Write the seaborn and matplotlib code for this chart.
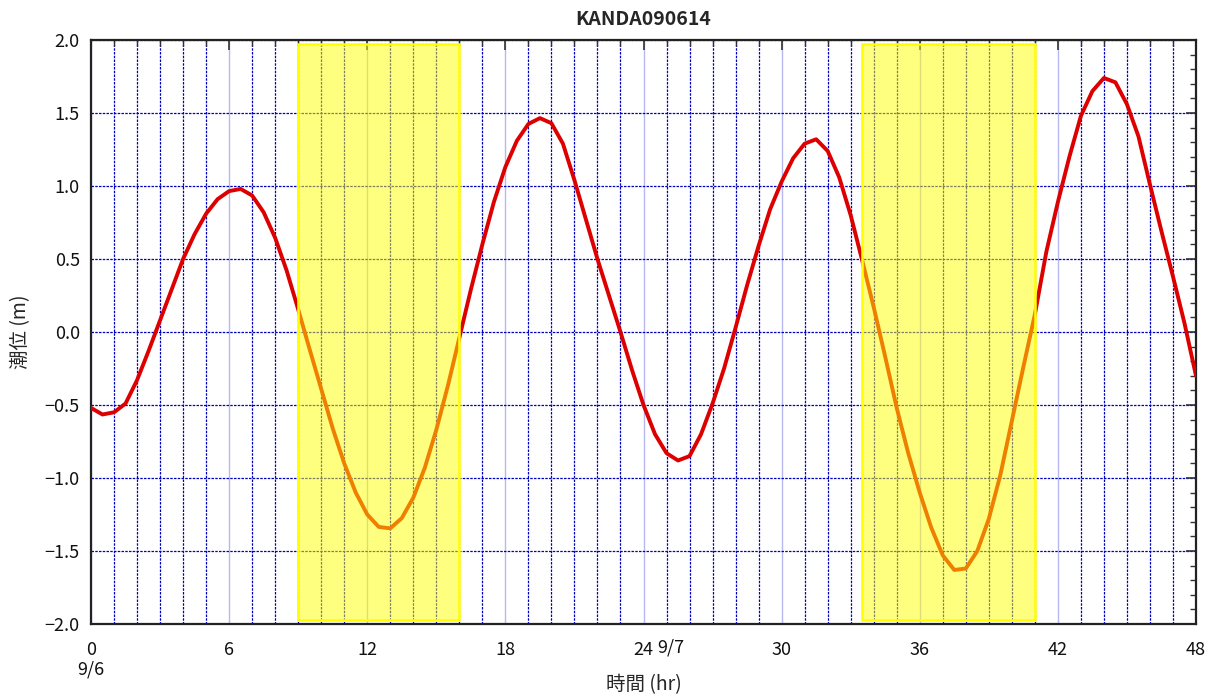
import matplotlib
matplotlib.use("Agg")
import matplotlib.pyplot as plt
import matplotlib.transforms as mtransforms
from matplotlib.patches import Rectangle
from matplotlib.ticker import MultipleLocator, FuncFormatter
import seaborn as sns
import pandas as pd

# ---- data ----
hours = [0.0, 0.5, 1.0, 1.5, 2.0, 2.5, 3.0, 3.5, 4.0, 4.5, 5.0, 5.5, 6.0, 6.5,
         7.0, 7.5, 8.0, 8.5, 9.0, 9.5, 10.0, 10.5, 11.0, 11.5, 12.0, 12.5,
         13.0, 13.5, 14.0, 14.5, 15.0, 15.5, 16.0, 16.5, 17.0, 17.5, 18.0,
         18.5, 19.0, 19.5, 20.0, 20.5, 21.0, 21.5, 22.0, 22.5, 23.0, 23.5,
         24.0, 24.5, 25.0, 25.5, 26.0, 26.5, 27.0, 27.5, 28.0, 28.5, 29.0,
         29.5, 30.0, 30.5, 31.0, 31.5, 32.0, 32.5, 33.0, 33.5, 34.0, 34.5,
         35.0, 35.5, 36.0, 36.5, 37.0, 37.5, 38.0, 38.5, 39.0, 39.5, 40.0,
         40.5, 41.0, 41.5, 42.0, 42.5, 43.0, 43.5, 44.0, 44.5, 45.0, 45.5,
         46.0, 46.5, 47.0, 47.5, 48.0]
tide_level = [-0.52, -0.565, -0.55, -0.49, -0.33, -0.13, 0.08, 0.29, 0.50, 0.67,
              0.81, 0.91, 0.965, 0.98, 0.935, 0.82, 0.645, 0.42, 0.155, -0.12,
              -0.39, -0.66, -0.90, -1.10, -1.25, -1.335, -1.345, -1.275, -1.135,
              -0.93, -0.67, -0.37, -0.04, 0.29, 0.60, 0.89, 1.13, 1.31, 1.425,
              1.465, 1.43, 1.29, 1.04, 0.77, 0.50, 0.25, 0.0, -0.26, -0.50,
              -0.70, -0.83, -0.88, -0.85, -0.70, -0.49, -0.25, 0.03, 0.32,
              0.59, 0.84, 1.03, 1.19, 1.29, 1.32, 1.24, 1.06, 0.80, 0.49, 0.17,
              -0.17, -0.52, -0.83, -1.10, -1.34, -1.53, -1.63, -1.62, -1.50,
              -1.28, -0.98, -0.61, -0.24, 0.12, 0.55, 0.89, 1.20, 1.48, 1.65,
              1.74, 1.71, 1.56, 1.34, 1.01, 0.69, 0.38, 0.06, -0.30]
night_start = [9.0, 33.5]
night_end = [16.0, 41.0]
date_labels = ["9/6", "9/7"]
date_label_x = [0.0, 25.2]
title = "KANDA090614"
x_label = "時間 (hr)"
y_label = "潮位 (m)"

df = pd.DataFrame({"hour": hours, "level": tide_level})

sns.set_style("white")
plt.rcParams["font.family"] = ["Noto Sans CJK JP", "DejaVu Sans"]
plt.rcParams["axes.unicode_minus"] = True

fig = plt.figure(figsize=(12.18, 6.97), dpi=100)
ax = fig.add_axes([91 / 1218, 1 - 624 / 697, (1196 - 91) / 1218, (624 - 40) / 697])

sns.lineplot(data=df, x="hour", y="level", ax=ax, color="#DD0000",
             linewidth=2.8, zorder=3, solid_capstyle="round",
             solid_joinstyle="round")

for s, e in zip(night_start, night_end):
    ax.add_patch(Rectangle((s, -1.97), e - s, 3.94,
                           facecolor=(1, 1, 0, 0.5), edgecolor=(1, 1, 0, 1),
                           linewidth=1.8, zorder=4))

ax.set_xlim(0, 48)
ax.set_ylim(-2.0, 2.0)
ax.xaxis.set_major_locator(MultipleLocator(6))
ax.xaxis.set_minor_locator(MultipleLocator(1))
ax.yaxis.set_major_locator(MultipleLocator(0.5))
ax.yaxis.set_minor_locator(MultipleLocator(0.1))
ax.yaxis.set_major_formatter(FuncFormatter(
    lambda v, p: f"{v:.1f}".replace("-", "\u2212")))

ax.set_axisbelow(True)
ax.xaxis.grid(True, which="major", color="#B8B8F0", linestyle="-", linewidth=1.0)
ax.xaxis.grid(True, which="minor", color="#0000C0", linestyle=(0, (2, 1)), linewidth=0.9)
ax.yaxis.grid(True, which="major", color="#0000C0", linestyle=(0, (2, 1)), linewidth=0.9)

ax.tick_params(axis="both", which="both", direction="in", top=True, right=True,
               color="#333333")
ax.tick_params(axis="both", which="major", length=7, width=1.2, labelsize=13,
               colors="#333333", labelcolor="#111111")
ax.tick_params(axis="both", which="minor", length=4.5, width=1.0)
ax.tick_params(axis="x", which="major", pad=12)
ax.tick_params(axis="y", which="major", pad=8)

for side in ["left", "right", "top", "bottom"]:
    ax.spines[side].set_color("#222222")
    ax.spines[side].set_linewidth(1.6)

ax.set_title(title, fontsize=14, fontweight="bold", pad=11)
ax.set_xlabel(x_label, fontsize=14, labelpad=11)
ax.set_ylabel(y_label, fontsize=14, labelpad=10)

trans = mtransforms.blended_transform_factory(ax.transData, fig.transFigure)
ax.text(date_label_x[0], 1 - 670 / 697, date_labels[0], transform=trans,
        ha="center", va="center", fontsize=13, color="#111111")
ax.text(date_label_x[1], 1 - 648 / 697, date_labels[1], transform=trans,
        ha="center", va="center", fontsize=13, color="#111111")

fig.savefig("out.png", dpi=100, facecolor="white")
